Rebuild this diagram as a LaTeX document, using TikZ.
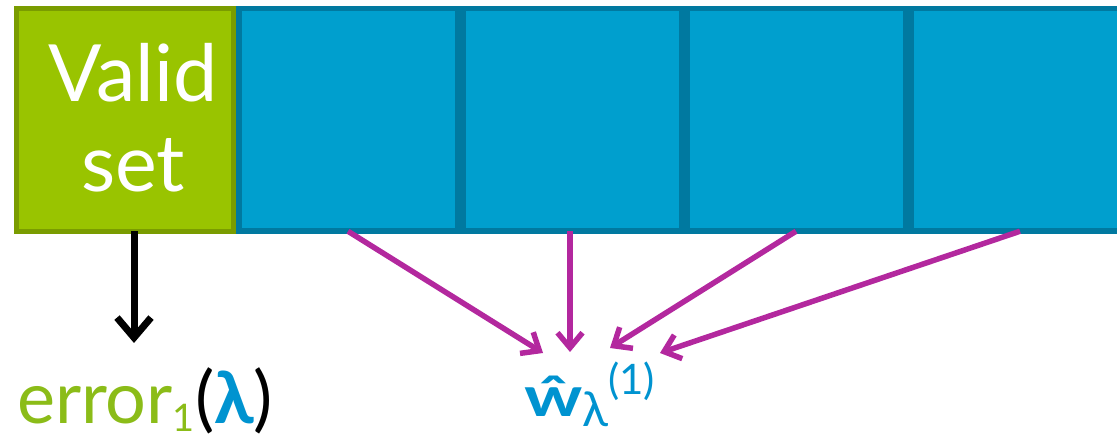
\documentclass[tikz,border=0pt]{standalone}
\usepackage{fontspec}
\setmainfont{Lato}
\usetikzlibrary{arrows.meta,calc}
\definecolor{greenfill}{RGB}{153,196,0}
\definecolor{greenborder}{RGB}{122,156,0}
\definecolor{bluefill}{RGB}{0,159,206}
\definecolor{blueborder}{RGB}{0,121,160}
\definecolor{arrowmag}{RGB}{179,40,158}
\definecolor{txtgreen}{RGB}{139,188,24}
\definecolor{txtblue}{RGB}{0,147,208}
\tikzset{
  cell/.style={draw=blueborder, fill=bluefill, line width=5.5pt, minimum width=218.5pt, minimum height=222.5pt, inner sep=0pt, outer sep=0pt},
  validcell/.style={draw=greenborder, fill=greenfill, line width=5pt, minimum width=217pt, minimum height=223pt, inner sep=0pt, outer sep=0pt, text=white, align=center, font=\fontsize{79}{90}\selectfont},
  magarrow/.style={draw=arrowmag, line width=5.5pt, -{Straight Barb[length=15pt,width=25pt]}},
  blkarrow/.style={draw=black, line width=7pt, -{Straight Barb[length=20pt,width=34pt]}},
  lbl/.style={anchor=base west, inner sep=0pt, outer sep=0pt}
}
\begin{document}
\begin{tikzpicture}[x=1pt,y=-1pt]
\useasboundingbox (0,0) rectangle (1117,438);
\node[validcell] (val) at (125,120) {\hspace*{16pt}Valid\\\hspace*{16pt}set\rule[-6pt]{0pt}{6pt}};
\node[cell] (c1) at (348,120) {};
\node[cell] (c2) at (572,120) {};
\node[cell] (c3) at (796,120) {};
\node[cell] (c4) at (1020,120) {};
\node[lbl, font=\fontsize{72}{72}\selectfont] (err) at (17,424)
  {{\color{txtgreen}error}\raisebox{-7pt}{\color{txtgreen}\fontsize{38}{38}\selectfont 1}{\color{black}(}{\color{txtblue}\bfseries λ}{\color{black})}};
\node[lbl, text=txtblue] (w) at (524,416)
  {{\fontsize{56}{56}\selectfont\bfseries\scalebox{1.3}[1]{ŵ}}\raisebox{-10pt}{\fontsize{48}{48}\selectfont λ}\raisebox{21pt}{\fontsize{42}{42}\selectfont (1)}};
\coordinate (bs) at ($(val.south)+(9,0)$);
\coordinate (be) at (134,343);
\coordinate (t1) at (543,353);
\coordinate (t2) at (570,352);
\coordinate (t3) at (610,348);
\coordinate (t4) at (660,353);
\draw[blkarrow] (bs) -- (be);
\draw[magarrow] (c1.south) -- (t1);
\draw[magarrow] (c2.south -| t2) -- (t2);
\draw[magarrow] (c3.south) -- (t3);
\draw[magarrow] (c4.south) -- (t4);
\end{tikzpicture}
\end{document}
